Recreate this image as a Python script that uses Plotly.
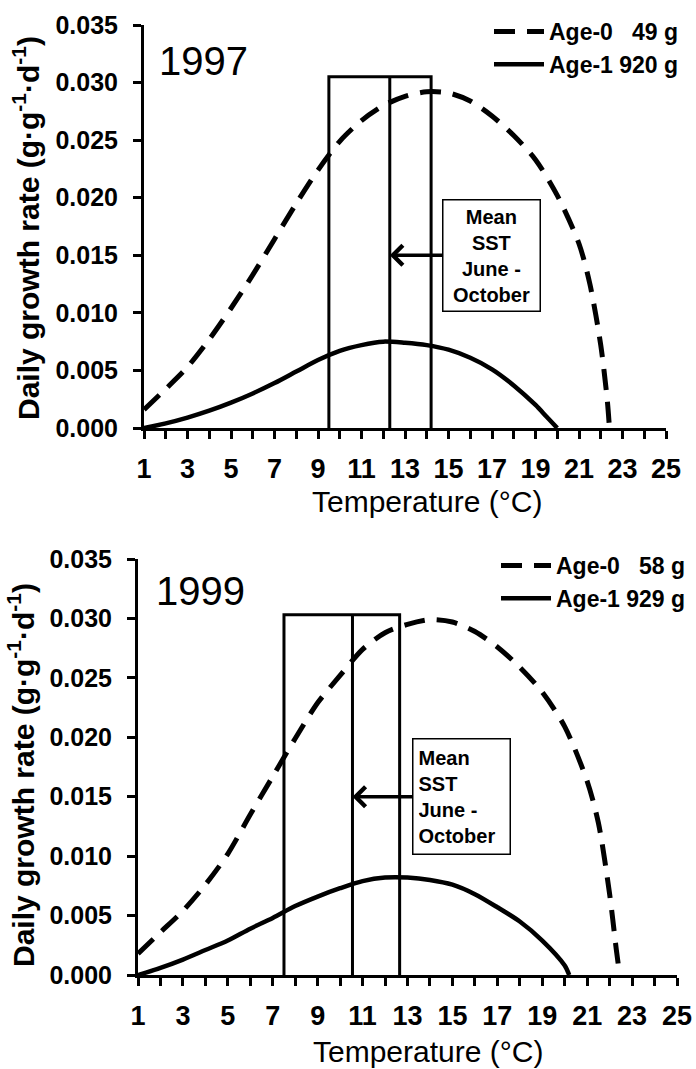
import plotly.graph_objects as go

# ---------------- data ----------------
# 1997
t0_1997 = [1, 2, 3, 4, 5, 6, 7, 8, 9, 10, 11, 12, 13, 14, 15, 16, 17, 18, 19, 20, 21, 21.5, 22, 22.3, 22.4]
g0_1997 = [0.0016, 0.0034, 0.0053, 0.0077, 0.0104, 0.0133, 0.0164, 0.0195, 0.0224, 0.0249, 0.0267,
           0.0280, 0.0288, 0.0292, 0.0291, 0.0284, 0.0271, 0.0254, 0.0233, 0.0202, 0.0160, 0.0125,
           0.0072, 0.0024, 0.0]
t1_1997 = [1, 2, 3, 4, 5, 6, 7, 8, 9, 10, 11, 12, 13, 14, 15, 16, 17, 18, 19, 19.5, 20]
g1_1997 = [0.0, 0.0004, 0.0009, 0.0015, 0.0022, 0.0030, 0.0039, 0.0049, 0.0059, 0.0067, 0.0072,
           0.0075, 0.0074, 0.0072, 0.0068, 0.0061, 0.0051, 0.0037, 0.0020, 0.0010, 0.0]
sst_1997 = [9.5, 12.3, 14.2]       # low, mean, high
# 1999
t0_1999 = [1, 2, 3, 4, 5, 6, 7, 8, 9, 10, 11, 12, 13, 14, 15, 16, 17, 18, 19, 20, 21, 21.5, 22, 22.3, 22.45]
g0_1999 = [0.0018, 0.0036, 0.0054, 0.0076, 0.0102, 0.0135, 0.0167, 0.0199, 0.0229, 0.0252, 0.0274,
           0.0288, 0.0295, 0.0299, 0.0297, 0.0289, 0.0276, 0.0259, 0.0238, 0.0209, 0.0163, 0.0128,
           0.0068, 0.0021, 0.0]
t1_1999 = [1, 2, 3, 4, 5, 6, 7, 8, 9, 10, 11, 12, 13, 14, 15, 16, 17, 18, 19, 20, 20.2]
g1_1999 = [0.0, 0.0006, 0.0013, 0.0021, 0.0029, 0.0039, 0.0048, 0.0058, 0.0066, 0.0073, 0.0079,
           0.0082, 0.0082, 0.0080, 0.0076, 0.0068, 0.0057, 0.0045, 0.0029, 0.0008, 0.0]
sst_1999 = [7.5, 10.55, 12.65]
box_top = [0.0305, 0.0303]
arrow_y = [0.015, 0.015]

years = ["1997", "1999"]
legend_age0 = ["Age-0\u00a0\u00a0\u00a049 g", "Age-0\u00a0\u00a0\u00a058 g"]
legend_age1 = ["Age-1 920 g", "Age-1 929 g"]
y_ticks = [0.0, 0.005, 0.010, 0.015, 0.020, 0.025, 0.030, 0.035]

W, H = 696, 1069
FONT = "Liberation Sans, Arial, sans-serif"

# pixel geometry of the two plot areas (left, right, top, bottom)
areas = [(144, 666, 25, 428), (138, 677, 559, 975)]

fig = go.Figure()

panels = [
    (t0_1997, g0_1997, t1_1997, g1_1997, sst_1997),
    (t0_1999, g0_1999, t1_1999, g1_1999, sst_1999),
]

for i, (t0, g0, t1, g1, sst) in enumerate(panels):
    xa = "x" if i == 0 else "x2"
    ya = "y" if i == 0 else "y2"
    lg = "legend" if i == 0 else "legend2"
    lo, mid, hi = sst
    top = box_top[i]
    # SST box
    fig.add_trace(go.Scatter(x=[lo, lo, hi, hi], y=[0, top, top, 0], mode="lines",
                             line=dict(color="black", width=3), xaxis=xa, yaxis=ya,
                             showlegend=False, hoverinfo="skip"))
    fig.add_trace(go.Scatter(x=[mid, mid], y=[0, top], mode="lines",
                             line=dict(color="black", width=3), xaxis=xa, yaxis=ya,
                             showlegend=False, hoverinfo="skip"))
    fig.add_trace(go.Scatter(x=t0, y=g0, mode="lines", name=legend_age0[i],
                             line=dict(color="black", width=5, dash="21px,12px", shape="spline", smoothing=0.8),
                             xaxis=xa, yaxis=ya, legend=lg))
    fig.add_trace(go.Scatter(x=t1, y=g1, mode="lines", name=legend_age1[i],
                             line=dict(color="black", width=4.5, shape="spline", smoothing=0.8),
                             xaxis=xa, yaxis=ya, legend=lg))

axis_common = dict(showgrid=False, zeroline=False, showline=True, linecolor="black", linewidth=3,
                   ticks="outside", ticklen=8, tickwidth=2.5, tickcolor="black")

layout = dict(width=W, height=H, margin=dict(l=0, r=0, t=0, b=0, autoexpand=False),
              paper_bgcolor="white", plot_bgcolor="white",
              font=dict(family=FONT, color="black"))

for i, (l, r, t, b) in enumerate(areas):
    sx = "" if i == 0 else "2"
    layout["xaxis" + sx] = dict(axis_common, domain=[l / W, r / W], range=[1, 25],
                                anchor="y" + sx, tick0=1, dtick=2,
                                minor=dict(dtick=1, tick0=1, ticks="outside", ticklen=8,
                                           tickwidth=2.5, tickcolor="black", showgrid=False),
                                tickfont=dict(family=FONT, size=27, color="black", weight="bold"),
                                ticklabelstandoff=7)
    layout["yaxis" + sx] = dict(axis_common, domain=[1 - b / H, 1 - t / H], range=[0, 0.035],
                                anchor="x" + sx, tickvals=y_ticks, tickformat=".3f",
                                tickfont=dict(family=FONT, size=25, color="black", weight="bold"),
                                ticklabelstandoff=10)

legend_pos = [(489, 10), (496, 544)]
for i, (lx, ly) in enumerate(legend_pos):
    key = "legend" if i == 0 else "legend2"
    layout[key] = dict(x=lx / W, y=1 - ly / H, xanchor="left", yanchor="top",
                       bgcolor="rgba(0,0,0,0)", borderwidth=0, itemwidth=50,
                       font=dict(family=FONT, size=23, color="black", weight="bold"),
                       tracegroupgap=0)

fig.update_layout(**layout)

annotations = []
# year labels
year_pos = [(204, 61), (200, 591)]
for i, (px, py) in enumerate(year_pos):
    annotations.append(dict(text=years[i], x=px / W, y=1 - py / H, xref="paper", yref="paper",
                            showarrow=False, font=dict(family=FONT, size=40, color="black"),
                            xanchor="center", yanchor="middle"))
# axis titles
xt_pos = [(427, 502), (428, 1051)]
yt_pos = [(26, 228), (21, 775)]
for i in range(2):
    annotations.append(dict(text="Temperature (°C)", x=xt_pos[i][0] / W, y=1 - xt_pos[i][1] / H,
                            xref="paper", yref="paper", showarrow=False,
                            font=dict(family=FONT, size=30, color="black"),
                            xanchor="center", yanchor="middle"))
    annotations.append(dict(text="Daily growth rate (g·g<sup>-1</sup>·d<sup>-1</sup>)",
                            x=yt_pos[i][0] / W, y=1 - yt_pos[i][1] / H,
                            xref="paper", yref="paper", showarrow=False, textangle=-90,
                            font=dict(family=FONT, size=30, color="black", weight="bold"),
                            xanchor="center", yanchor="middle"))
# Mean SST boxes with arrows
box_ax = [102, 109]
box_align = ["center", "left"]
box_w = [86, 86]
box_h = [100, 104]
for i, sst in enumerate([sst_1997, sst_1999]):
    sx = "" if i == 0 else "2"
    annotations.append(dict(text="Mean<br>SST<br>June -<br>October", x=sst[1], y=arrow_y[i],
                            xref="x" + sx, yref="y" + sx, ax=box_ax[i], ay=0,
                            axref="pixel", ayref="pixel",
                            showarrow=True, arrowhead=4, arrowsize=1.1, arrowwidth=3.5,
                            arrowcolor="black", standoff=0,
                            bordercolor="black", borderwidth=1.5, borderpad=5, bgcolor="white",
                            width=box_w[i], height=box_h[i], align=box_align[i],
                            font=dict(family=FONT, size=20, color="black", weight="bold")))

fig.update_layout(annotations=annotations)

fig.write_html("out.html")
